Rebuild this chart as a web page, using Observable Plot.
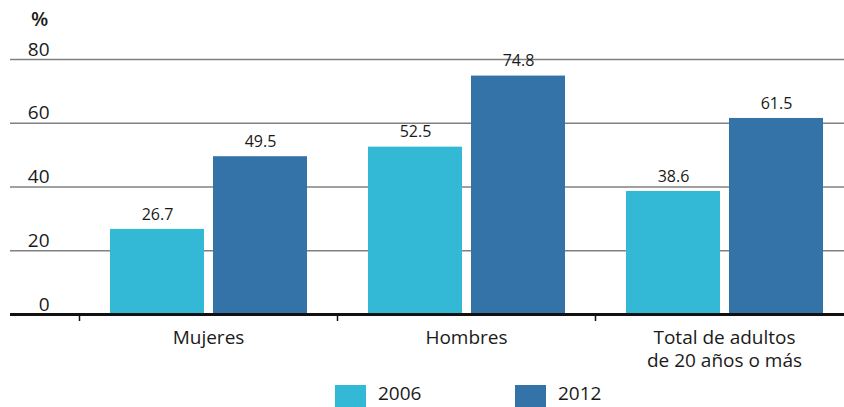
<!DOCTYPE html>
<html><head><meta charset="utf-8">
<script src="https://cdn.jsdelivr.net/npm/d3@7"></script>
<script src="https://cdn.jsdelivr.net/npm/@observablehq/plot@0.6"></script>
<style>
body{margin:0;background:#fff;font-family:"Open Sans",sans-serif;color:#1a1a1a;}
#wrap{position:relative;width:844px;height:407px;overflow:hidden;}
#unit{position:absolute;left:31px;top:9px;font-size:20px;line-height:20px;font-weight:600;}
#legend{position:absolute;left:335px;top:385px;display:flex;}
.item{display:flex;align-items:flex-start;width:180px;font-size:19px;}
.sw{width:31px;height:22px;margin-right:12px;}
.lab{display:block;line-height:17px;margin-top:0px;}
</style></head>
<body><div id="wrap"><div id="unit">%</div><div id="chart"></div><div id="legend"></div></div>
<script>
const categories = ["Mujeres", "Hombres", "Total de adultos\nde 20 años o más"];
const years = ["2006", "2012"];
const values2006 = [26.7, 52.5, 38.6];
const values2012 = [49.5, 74.8, 61.5];
const yTicks = [0, 20, 40, 60, 80];
const colors = ["#33b8d5", "#3373a7"];

const data = [];
categories.forEach((c, i) => {
  data.push({group: c, year: years[0], value: values2006[i]});
  data.push({group: c, year: years[1], value: values2012[i]});
});

const chart = Plot.plot({
  width: 844, height: 382,
  marginTop: 59, marginBottom: 68, marginLeft: 78, marginRight: 0,
  style: {fontFamily: "Open Sans", fontSize: "19px", color: "#1a1a1a", background: "transparent"},
  fx: {domain: categories, range: [79, 853], padding: 0, label: null},
  x: {domain: years, paddingInner: 0.0874, paddingOuter: 0.296, axis: null},
  y: {domain: [0, 80], label: null},
  color: {domain: years, range: colors},
  marks: [
    Plot.ruleY(yTicks.slice(1), {stroke: "#808080", strokeWidth: 1.5}),
    Plot.axisY({ticks: yTicks.slice(1), tickSize: 69, tickFormat: () => "", stroke: "#808080", strokeWidth: 1.5, label: null}),
    Plot.axisY({ticks: yTicks, tickSize: 0, tickPadding: 30, dy: -10, fontSize: 19, label: null}),
    Plot.barY(data, {fx: "group", x: "year", y: "value", fill: "year"}),
    Plot.text(data, {fx: "group", x: "year", y: "value", text: d => d.value.toFixed(1), dy: -15, fontSize: 16, fill: "#1a1a1a"}),
    Plot.ruleY([0], {stroke: "#111", strokeWidth: 3}),
    Plot.axisY({ticks: [0], tickSize: 69, tickFormat: () => "", stroke: "#111", strokeWidth: 3, label: null}),
    Plot.axisFx({anchor: "bottom", tickSize: 7, tickFormat: () => "", dx: -129, stroke: "#111", strokeWidth: 1.5, label: null}),
    Plot.text(categories, {fx: d => d, text: d => d, frameAnchor: "bottom", lineAnchor: "top", dy: 12, lineHeight: 1.26, fontSize: 19, fill: "#1a1a1a"})
  ]
});
document.getElementById("chart").appendChild(chart);

const legend = document.getElementById("legend");
years.forEach((y, i) => {
  const item = document.createElement("div");
  item.className = "item";
  const sw = document.createElement("div");
  sw.className = "sw";
  sw.style.background = colors[i];
  const lab = document.createElement("span");
  lab.className = "lab";
  lab.textContent = y;
  item.appendChild(sw);
  item.appendChild(lab);
  legend.appendChild(item);
});
</script></body></html>
